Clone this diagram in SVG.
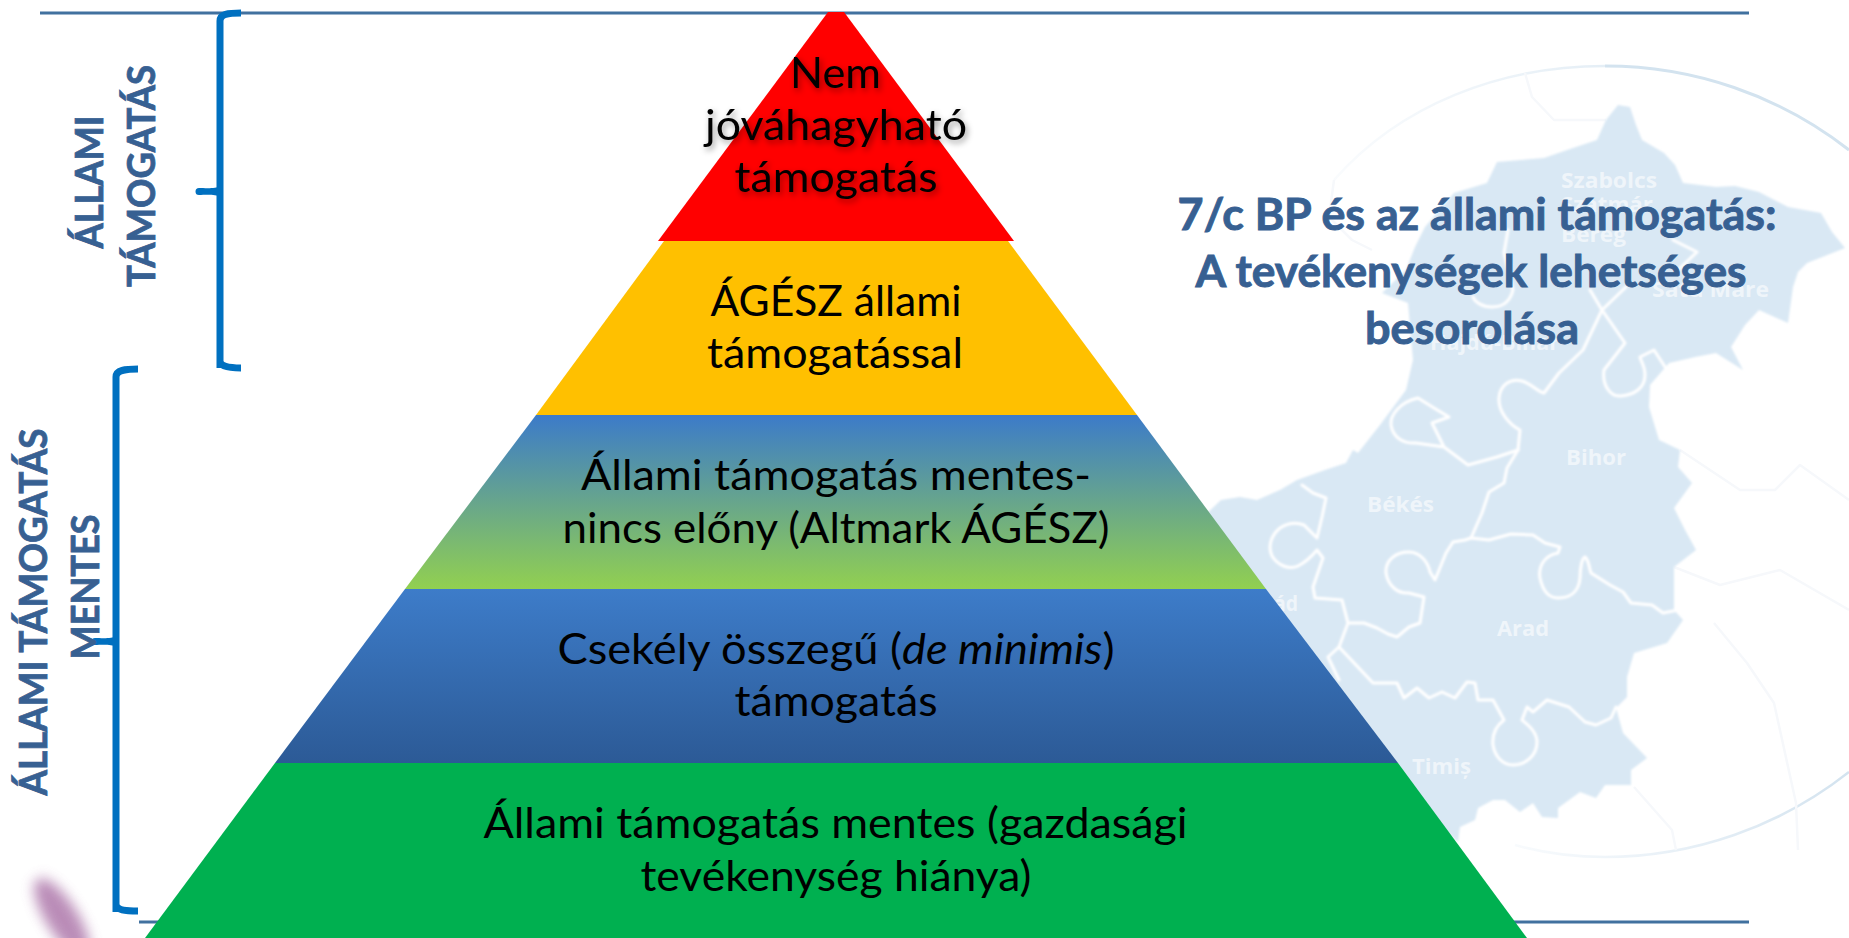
<svg xmlns="http://www.w3.org/2000/svg" width="1849" height="938" viewBox="0 0 1849 938">
<style>
.lab{font-family:Lato,"Liberation Sans",sans-serif;font-size:42px;fill:#000;text-anchor:middle}
.side{font-family:Lato,"Liberation Sans",sans-serif;font-size:38px;font-weight:700;fill:#376092;stroke:#376092;stroke-width:.8;text-anchor:middle}
.title{font-family:Lato,"Liberation Sans",sans-serif;font-size:44px;font-weight:700;fill:#376092;stroke:#376092;stroke-width:.9;text-anchor:middle}
.map{font-family:"Open Sans","Liberation Sans",sans-serif;font-size:21px;font-weight:700;fill:#eff5fa}
.brace{fill:none;stroke:#0070c0;stroke-width:7}
.rule{stroke:#41719f;stroke-width:3}
.river{fill:none;stroke:#fff;stroke-width:3;stroke-linejoin:round;stroke-linecap:round}
.faint{fill:none;stroke:#f6f8fb;stroke-width:2.5;stroke-linejoin:round}
</style>
<defs>
<linearGradient id="g3" x1="0" y1="0" x2="0" y2="1"><stop offset="0" stop-color="#3c7bc9"/><stop offset="1" stop-color="#92d050"/></linearGradient>
<linearGradient id="g4" x1="0" y1="0" x2="0" y2="1"><stop offset="0" stop-color="#3d7cc9"/><stop offset="1" stop-color="#2c5a96"/></linearGradient>
<linearGradient id="ring" gradientUnits="userSpaceOnUse" x1="1330" y1="0" x2="1800" y2="0"><stop offset="0" stop-color="#dbe8f3" stop-opacity=".15"/><stop offset="1" stop-color="#d3e3ef"/></linearGradient>
<linearGradient id="ring2" gradientUnits="userSpaceOnUse" x1="1500" y1="0" x2="1849" y2="0"><stop offset="0" stop-color="#dbe8f3" stop-opacity=".15"/><stop offset="1" stop-color="#d3e3ef"/></linearGradient>
<filter id="soft" x="-5%" y="-5%" width="110%" height="110%"><feGaussianBlur stdDeviation="1.1"/></filter>
<filter id="blob" x="-60%" y="-60%" width="220%" height="220%"><feGaussianBlur stdDeviation="6.5"/></filter>
<filter id="sh" x="-10%" y="-30%" width="120%" height="170%"><feDropShadow dx="2" dy="3" stdDeviation="3" flood-color="#000" flood-opacity=".4"/></filter>
</defs>
<rect width="1849" height="938" fill="#fff"/>
<g id="map-background">
<path d="M1605 66A395 395 0 0 1 1849 150" fill="none" stroke="#d3e3ef" stroke-width="3"/>
<path d="M1334 180C1400 105 1500 66 1605 66" fill="none" stroke="url(#ring)" stroke-width="2.5"/>
<path d="M1849 772A395 395 0 0 1 1605 857C1570 857 1540 852 1515 845" fill="none" stroke="url(#ring2)" stroke-width="2.5"/>
<path class="faint" d="M1525 73L1532 97L1554 120L1606 120M1334 180L1329 217L1352 240L1372 250M1714 623L1747 663L1774 703L1796 803L1798 850M1634 787L1672 830L1676 850M1680 450L1740 490L1775 490L1800 465L1849 500M1674 567L1720 585L1780 570L1849 610"/>
<g filter="url(#soft)">
<path fill="#d9e8f4" d="M1618 105L1630 107L1636 125L1642 140L1664 153L1675 165L1683 183L1716 187L1735 186L1759 192L1788 207L1821 213L1832 232L1845 248L1807 263L1798 272L1793 287L1788 323L1759 310L1745 325L1731 347L1743 370L1716 353L1695 357L1669 363L1650 385L1649 407L1659 440L1680 450L1678 467L1692 483L1674 508L1685 530L1696 550L1674 567L1674 610L1683 620L1667 643L1634 653L1627 677L1627 697L1616 708L1623 733L1647 758L1631 770L1631 785L1605 785L1596 798L1580 792L1558 808L1558 818L1542 817L1533 803L1520 812L1505 800L1493 800L1478 808L1475 820L1460 827L1458 842L1200 600L1200 520L1221 500L1240 497L1257 500L1280 490L1297 480L1325 470L1346 463L1353 450L1358 453L1380 425L1406 390L1413 360L1408 303L1382 293L1406 270L1415 247L1425 227L1454 193L1487 183L1497 162L1544 158L1573 148L1597 140L1606 120Z"/>
<g id="county-lines" class="river">
<path d="M1302 485L1313 493L1326 498L1322 517L1317 538L1304 525C1296 522 1288 523 1280 528C1270 536 1268 548 1272 556C1278 566 1290 570 1298 566C1306 562 1312 556 1317 550L1323 558L1313 587L1315 598L1342 600L1348 623L1339 647L1328 657L1339 680"/>
<path d="M1348 623L1364 623L1377 628L1388 634L1397 637L1409 627L1420 623L1424 597L1409 593C1398 594 1388 586 1386 573C1385 560 1396 552 1409 552C1420 552 1428 562 1430 572L1435 580L1446 553L1453 542L1465 540L1471 538L1482 513L1489 492L1504 483L1507 468L1518 450"/>
<path d="M1518 450L1520 430C1510 425 1498 412 1499 398C1500 385 1510 378 1522 381C1532 384 1538 392 1544 393L1559 373L1583 350L1602 310L1625 343L1604 370C1602 385 1610 397 1621 396C1634 395 1645 388 1645 375C1645 365 1640 360 1640 357L1654 350L1669 373"/>
<path d="M1518 450L1497 457L1468 465L1444 447L1432 423L1449 417L1434 408L1418 398C1400 402 1390 415 1391 425C1393 438 1404 444 1416 443L1444 447"/>
<path d="M1471 538L1489 540L1511 534L1533 535L1545 543L1560 547L1558 553C1545 555 1538 566 1540 578C1543 592 1550 598 1558 598C1572 598 1579 590 1580 578C1580 568 1582 558 1585 557C1589 560 1589 568 1591 573L1610 585L1623 592L1631 603L1652 605L1663 613L1678 610"/>
<path d="M1339 647L1373 683L1397 683L1404 698L1417 688L1429 698L1442 692L1455 698L1467 682L1475 683L1478 700L1493 700L1504 720C1496 726 1492 735 1493 745C1495 757 1503 765 1513 765C1526 765 1537 755 1537 742C1537 732 1528 725 1522 720L1527 707L1533 712L1547 700L1569 707L1585 722L1596 725L1611 718L1616 707"/>
<path d="M1508 230L1504 253L1513 290C1510 302 1502 307 1492 307C1482 307 1475 302 1473 297M1673 240L1697 252L1678 270M1626 287L1602 310L1590 290"/>
</g>
</g>
<text class="map" x="1561" y="188" textLength="96" lengthAdjust="spacingAndGlyphs">Szabolcs</text>
<text class="map" x="1561" y="212" textLength="92" lengthAdjust="spacingAndGlyphs">Szatmár</text>
<text class="map" x="1561" y="242" textLength="65" lengthAdjust="spacingAndGlyphs">Bereg</text>
<text class="map" x="1652" y="297" textLength="117" lengthAdjust="spacingAndGlyphs">Satu Mare</text>
<text class="map" x="1430" y="350" textLength="129" lengthAdjust="spacingAndGlyphs">Hajdú-Bihar</text>
<text class="map" x="1566" y="465" textLength="60" lengthAdjust="spacingAndGlyphs">Bihor</text>
<text class="map" x="1367" y="512" textLength="67" lengthAdjust="spacingAndGlyphs">Békés</text>
<text class="map" x="1497" y="636" textLength="52" lengthAdjust="spacingAndGlyphs">Arad</text>
<text class="map" x="1412" y="774" textLength="59" lengthAdjust="spacingAndGlyphs">Timiș</text>
<text class="map" x="1274" y="611" textLength="24" lengthAdjust="spacingAndGlyphs">ád</text>
</g>
<g id="decor-blob"><ellipse cx="62" cy="918" rx="16" ry="46" transform="rotate(-32 62 918)" fill="#a96fa6" opacity=".8" filter="url(#blob)"/></g>
<g id="connectors">
<line class="rule" x1="40" y1="13" x2="1749" y2="13"/>
<line class="rule" x1="139" y1="922" x2="1749" y2="922"/>
<path class="brace" d="M241 13C228 13 220 14 220 21V368M220 361C220 366 228 368 241 368"/>
<path d="M220 186C216 189 205 188 199 188A3.5 3.5 0 0 0 199 195C205 195 216 194 220 197Z" fill="#0070c0"/>
<path class="brace" d="M138 369C125 369 116 370 116 377V912M116 904C116 910 125 911 138 911"/>
<path d="M116 636C112 639 101 638 95 638A3.5 3.5 0 0 0 95 645C101 645 112 644 116 647Z" fill="#0070c0"/>
</g>
<g id="band-red"><polygon points="828,12 844,12 1014,241 658,241" fill="#f00"/></g>
<g id="band-yellow"><polygon points="664,241 1008,241 1137,415 536,415" fill="#ffc000"/></g>
<g id="band-altmark"><polygon points="536,415 1137,415 1266,589 405,589" fill="url(#g3)"/></g>
<g id="band-deminimis"><polygon points="405,589 1266,589 1398,763 275,763" fill="url(#g4)"/></g>
<g id="band-green"><polygon points="275,763 1398,763 1527,938 145,938" fill="#00b050"/></g>
<g id="labels-pyramid">
<g filter="url(#sh)">
<text class="lab" x="835.5" y="88" textLength="91" lengthAdjust="spacingAndGlyphs">Nem</text>
<text class="lab" x="836" y="140" textLength="262" lengthAdjust="spacingAndGlyphs">jóváhagyható</text>
<text class="lab" x="836" y="192" textLength="203" lengthAdjust="spacingAndGlyphs">támogatás</text>
</g>
<text class="lab" x="836" y="316" textLength="251" lengthAdjust="spacingAndGlyphs">ÁGÉSZ állami</text>
<text class="lab" x="835" y="368" textLength="256" lengthAdjust="spacingAndGlyphs">támogatással</text>
<text class="lab" x="836" y="490" textLength="510" lengthAdjust="spacingAndGlyphs">Állami támogatás mentes-</text>
<text class="lab" x="836" y="543" textLength="547" lengthAdjust="spacingAndGlyphs">nincs előny (Altmark ÁGÉSZ)</text>
<text class="lab" x="836" y="664" textLength="557" lengthAdjust="spacingAndGlyphs">Csekély összegű (<tspan font-style="italic">de minimis</tspan>)</text>
<text class="lab" x="836" y="716" textLength="203" lengthAdjust="spacingAndGlyphs">támogatás</text>
<text class="lab" x="835.5" y="838" textLength="704" lengthAdjust="spacingAndGlyphs">Állami támogatás mentes (gazdasági</text>
<text class="lab" x="836" y="891" textLength="391" lengthAdjust="spacingAndGlyphs">tevékenység hiánya)</text>
</g>
<g id="labels-side">
<text class="side" transform="translate(103 182) rotate(-90)" textLength="133" lengthAdjust="spacingAndGlyphs">ÁLLAMI</text>
<text class="side" transform="translate(155 176) rotate(-90)" textLength="222" lengthAdjust="spacingAndGlyphs">TÁMOGATÁS</text>
<text class="side" transform="translate(47 612) rotate(-90)" textLength="367" lengthAdjust="spacingAndGlyphs">ÁLLAMI TÁMOGATÁS</text>
<text class="side" transform="translate(99 587) rotate(-90)" textLength="145" lengthAdjust="spacingAndGlyphs">MENTES</text>
</g>
<g id="title">
<text class="title" x="1477" y="230" textLength="599" lengthAdjust="spacingAndGlyphs">7/c BP és az állami támogatás:</text>
<text class="title" x="1471" y="287" textLength="551" lengthAdjust="spacingAndGlyphs">A tevékenységek lehetséges</text>
<text class="title" x="1472" y="344" textLength="214" lengthAdjust="spacingAndGlyphs">besorolása</text>
</g>
</svg>
